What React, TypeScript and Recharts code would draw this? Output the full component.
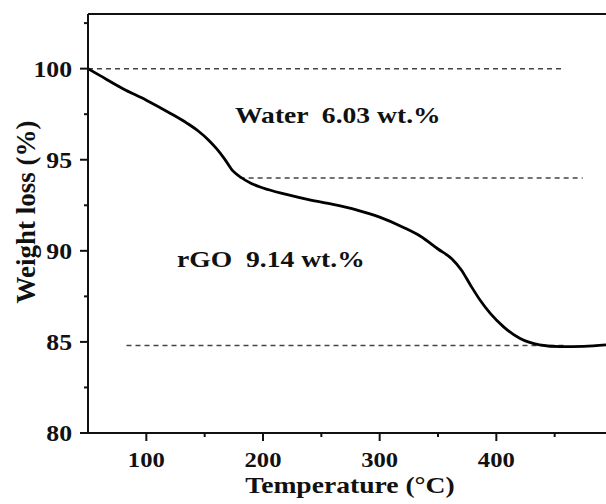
import { LineChart, Line, XAxis, YAxis, ReferenceLine, Label } from "recharts"

// TGA curve
const temperature = [50, 60, 80, 100, 120, 135, 145, 153, 160, 167, 174, 180, 190, 200, 220, 240, 260, 280, 300, 320, 335, 350, 362, 370, 378, 386, 395, 406, 420, 437, 455, 475, 494]
const weight = [100, 99.63, 98.9, 98.27, 97.57, 97.0, 96.55, 96.1, 95.62, 95.05, 94.4, 94.08, 93.7, 93.45, 93.1, 92.8, 92.55, 92.25, 91.85, 91.3, 90.8, 90.1, 89.55, 88.95, 88.1, 87.3, 86.55, 85.84, 85.2, 84.84, 84.74, 84.76, 84.84]

const xTicks = [100, 150, 200, 250, 300, 350, 400, 450]
const yTicks = [80, 82.5, 85, 87.5, 90, 92.5, 95, 97.5, 100, 102.5]

// dashed guide levels: [y, xStart, xEnd]
const guides: [number, number, number][] = [
  [100, 50, 457],
  [94, 180, 474],
  [84.8, 83, 460],
]

const annotations = [
  { text: "Water  6.03 wt.%", left: 235, top: 104 },
  { text: "rGO  9.14 wt.%", left: 177, top: 248 },
]

const data = temperature.map((t, i) => ({ t, w: weight[i] }))

const FONT = "'Liberation Serif', 'Times New Roman', serif"
const INK = "#111"

const YTick = ({ x, y, payload }: any) => {
  const major = payload.value % 5 === 0
  return (
    <g>
      <line x1={x - (major ? 8 : 4)} x2={x} y1={y} y2={y} stroke={INK} strokeWidth={2} />
      {major && (
        <text
          transform={`translate(${x - 16},${y}) scale(1.12,1)`}
          textAnchor="end"
          dy="0.35em"
          fontSize={23}
          fontWeight="bold"
          fontFamily={FONT}
          fill={INK}
        >
          {payload.value}
        </text>
      )}
    </g>
  )
}

const XTick = ({ x, y, payload }: any) => {
  const major = payload.value % 100 === 0
  return (
    <g>
      <line x1={x} x2={x} y1={y} y2={y + (major ? 8 : 4)} stroke={INK} strokeWidth={2} />
      {major && (
        <text
          transform={`translate(${x},${y + 34}) scale(1.12,1)`}
          textAnchor="middle"
          fontSize={22}
          fontWeight="bold"
          fontFamily={FONT}
          fill={INK}
        >
          {payload.value}
        </text>
      )}
    </g>
  )
}

export default function App() {
  return (
    <div style={{ position: "absolute", left: 0, top: 0, width: 606, height: 504, background: "#fff", fontFamily: FONT }}>
      <LineChart width={606} height={504} data={data} margin={{ top: 14, right: 0, bottom: 0, left: 0 }}>
        <XAxis
          dataKey="t"
          type="number"
          domain={[50, 494]}
          ticks={xTicks}
          allowDataOverflow
          height={71}
          tickSize={0}
          tickMargin={0}
          tickLine={false}
          axisLine={{ stroke: INK, strokeWidth: 2 }}
          tick={<XTick />}
          interval={0}
        >
          <Label
            content={() => (
              <text
                transform="translate(350,493) scale(1.2,1)"
                textAnchor="middle"
                fontSize={23}
                fontWeight="bold"
                fontFamily={FONT}
                fill={INK}
              >
                Temperature (°C)
              </text>
            )}
          />
        </XAxis>
        <YAxis
          type="number"
          domain={[80, 103]}
          ticks={yTicks}
          allowDataOverflow
          width={88}
          tickSize={0}
          tickMargin={0}
          tickLine={false}
          axisLine={{ stroke: INK, strokeWidth: 2 }}
          tick={<YTick />}
          interval={0}
        >
          <Label
            content={() => (
              <text
                transform="translate(35,212) rotate(-90)"
                textAnchor="middle"
                fontSize={27}
                fontWeight="bold"
                fontFamily={FONT}
                fill={INK}
              >
                Weight loss (%)
              </text>
            )}
          />
        </YAxis>
        <ReferenceLine y={103} stroke={INK} strokeWidth={2} />
        {guides.map(([y, x1, x2]) => (
          <ReferenceLine
            key={y}
            segment={[{ x: x1, y }, { x: x2, y }]}
            stroke="#444"
            strokeWidth={1.5}
            strokeDasharray="5 4"
          />
        ))}
        <Line
          type="monotone"
          dataKey="w"
          stroke="#000"
          strokeWidth={2.8}
          dot={false}
          isAnimationActive={false}
        />
      </LineChart>
      {annotations.map((a) => (
        <div
          key={a.text}
          style={{
            position: "absolute",
            left: a.left,
            top: a.top,
            fontSize: 23,
            lineHeight: "23px",
            fontWeight: "bold",
            color: INK,
            whiteSpace: "pre",
            transform: "scaleX(1.2)",
            transformOrigin: "left top",
          }}
        >
          {a.text}
        </div>
      ))}
    </div>
  )
}
